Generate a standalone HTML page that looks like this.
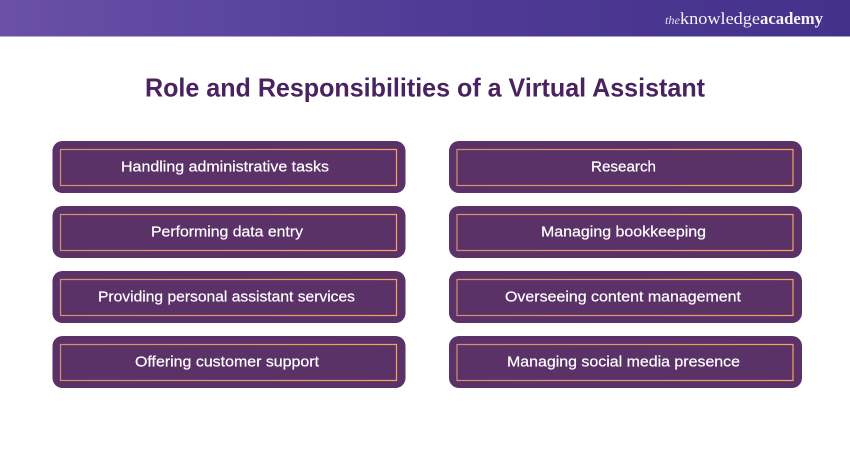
<!DOCTYPE html>
<html><head><meta charset="utf-8"><style>
html,body{margin:0;padding:0;background:#fff}
svg{display:block}
.l{font-family:"Liberation Sans",sans-serif;font-size:15px;fill:#fff;stroke:#fff;stroke-width:.2px}
</style></head><body>
<svg width="850" height="450" viewBox="0 0 850 450" xmlns="http://www.w3.org/2000/svg">
<defs>
<linearGradient id="h" x1="0" x2="1" y1="0" y2="0"><stop offset="0" stop-color="#6a50a7"/><stop offset=".5" stop-color="#503c96"/><stop offset="1" stop-color="#44318a"/></linearGradient>
<linearGradient id="b" x1="0" x2="1" y1="0" y2="0"><stop offset="0" stop-color="#d2906e"/><stop offset="1" stop-color="#f4a45e"/></linearGradient>
<g id="box"><rect x="52.5" y="0" width="353" height="52" rx="10" fill="#5a3268"/><rect x="60.5" y="8.5" width="336" height="36" fill="none" stroke="url(#b)" stroke-width="1.2"/></g>
</defs>
<rect width="850" height="36.5" fill="url(#h)"/>
<text x="665" y="24" font-family="'Liberation Serif',serif" font-size="12" font-style="italic" fill="#e4def0" textLength="15" lengthAdjust="spacingAndGlyphs">the</text>
<text x="680" y="24" font-family="'Liberation Serif',serif" font-size="17" fill="#f4f1f8" textLength="80" lengthAdjust="spacingAndGlyphs">knowledge</text>
<text x="760" y="24" font-family="'Liberation Serif',serif" font-size="17" font-weight="bold" fill="#f4f1f8" textLength="63" lengthAdjust="spacingAndGlyphs">academy</text>
<text x="145" y="96.5" font-family="'Liberation Sans',sans-serif" font-size="26" font-weight="bold" fill="#4a2260" textLength="560" lengthAdjust="spacingAndGlyphs">Role and Responsibilities of a Virtual Assistant</text>
<use href="#box" y="141"/><use href="#box" y="206"/><use href="#box" y="271"/><use href="#box" y="336"/>
<g transform="translate(396.5,0)"><use href="#box" y="141"/><use href="#box" y="206"/><use href="#box" y="271"/><use href="#box" y="336"/></g>
<text class="l" x="121" y="171.5" textLength="208" lengthAdjust="spacingAndGlyphs">Handling administrative tasks</text>
<text class="l" x="151" y="236.5" textLength="152" lengthAdjust="spacingAndGlyphs">Performing data entry</text>
<text class="l" x="98" y="301.5" textLength="257" lengthAdjust="spacingAndGlyphs">Providing personal assistant services</text>
<text class="l" x="135" y="366.5" textLength="184" lengthAdjust="spacingAndGlyphs">Offering customer support</text>
<text class="l" x="591" y="171.5" textLength="65" lengthAdjust="spacingAndGlyphs">Research</text>
<text class="l" x="541" y="236.5" textLength="165" lengthAdjust="spacingAndGlyphs">Managing bookkeeping</text>
<text class="l" x="505" y="301.5" textLength="236" lengthAdjust="spacingAndGlyphs">Overseeing content management</text>
<text class="l" x="507" y="366.5" textLength="233" lengthAdjust="spacingAndGlyphs">Managing social media presence</text>
</svg>
</body></html>
